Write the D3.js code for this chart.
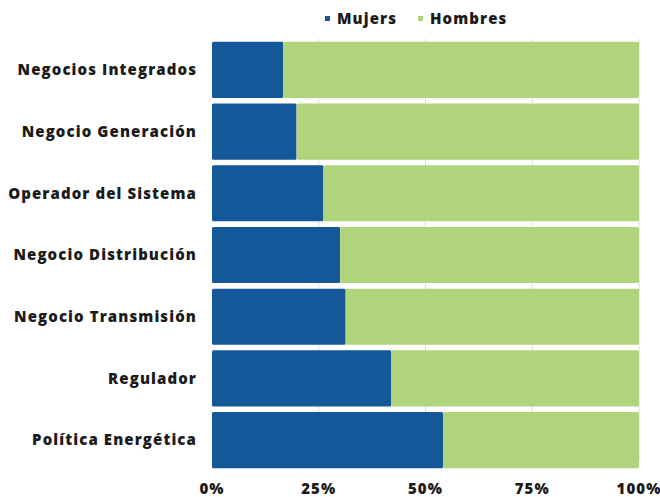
<!DOCTYPE html>
<html>
<head>
<meta charset="utf-8">
<script src="https://cdn.jsdelivr.net/npm/d3@7"></script>
<style>
  body { margin: 0; background: #fff; }
  svg text { font-family: "Open Sans", sans-serif; font-weight: 800; fill: #1b1b1b; letter-spacing: 1.1px; }
</style>
</head>
<body>
<svg id="chart" width="660" height="497"></svg>
<script>
// categories top to bottom
const categories = [
    "Negocios Integrados",
    "Negocio Generación",
    "Operador del Sistema",
    "Negocio Distribución",
    "Negocio Transmisión",
    "Regulador",
    "Política Energética"
];
// share of women per area (%)
const mujeres = [16.7, 19.8, 26.1, 30.0, 31.3, 42.0, 54.1];
const hombres = mujeres.map(v => 100 - v);
const series = ["Mujers", "Hombres"];
const tickValues = [0, 25, 50, 75, 100];

const colors = {Mujers: "#15589a", Hombres: "#b0d47b"};

const svg = d3.select("#chart");
const margin = {top: 39, right: 21, bottom: 25, left: 212};
const width = 660, height = 497;

const x = d3.scaleLinear().domain([0, 100]).range([margin.left, width - margin.right]);
const y = d3.scaleBand()
    .domain(categories)
    .range([margin.top, height - margin.bottom - 1])
    .paddingInner(0.09)
    .paddingOuter(0.045);

// grid lines
svg.append("g")
    .selectAll("line")
    .data(tickValues.slice(1))
    .join("line")
    .attr("x1", d => x(d)).attr("x2", d => x(d))
    .attr("y1", margin.top).attr("y2", height - margin.bottom - 12)
    .attr("stroke", "#dcdcdc")
    .attr("stroke-width", 1);

const rows = categories.map((c, i) => ({cat: c, m: mujeres[i], h: hombres[i]}));

const stack = d3.stack().keys(["m", "h"])(rows);

svg.append("g")
    .selectAll("g")
    .data(stack)
    .join("g")
    .attr("fill", (d, i) => colors[series[i]])
    .selectAll("rect")
    .data(d => d)
    .join("rect")
    .attr("x", d => x(d[0]))
    .attr("y", d => y(d.data.cat))
    .attr("width", d => x(d[1]) - x(d[0]))
    .attr("height", y.bandwidth())
    .attr("rx", 1.5);

// category labels
svg.append("g")
    .selectAll("text")
    .data(categories)
    .join("text")
    .attr("x", margin.left - 15)
    .attr("y", d => y(d) + y.bandwidth() / 2)
    .attr("dy", "0.35em")
    .attr("text-anchor", "end")
    .style("font-size", "15px")
    .text(d => d);

// x axis labels
svg.append("g")
    .selectAll("text")
    .data(tickValues)
    .join("text")
    .attr("x", d => x(d))
    .attr("y", 494)
    .attr("text-anchor", "middle")
    .style("font-size", "15px")
    .text(d => d + "%");

// legend
const legend = svg.append("g").attr("transform", "translate(325,19)");
const legendX = [0, 93];
const items = legend.selectAll("g")
    .data(series)
    .join("g")
    .attr("transform", (d, i) => "translate(" + legendX[i] + ",0)");
items.append("rect")
    .attr("x", 0).attr("y", -3)
    .attr("width", 5).attr("height", 5)
    .attr("fill", d => colors[d]);
items.append("text")
    .attr("x", 12)
    .attr("y", 0)
    .attr("dy", "0.35em")
    .style("font-size", "15px")
    .text(d => d);
</script>
</body>
</html>
